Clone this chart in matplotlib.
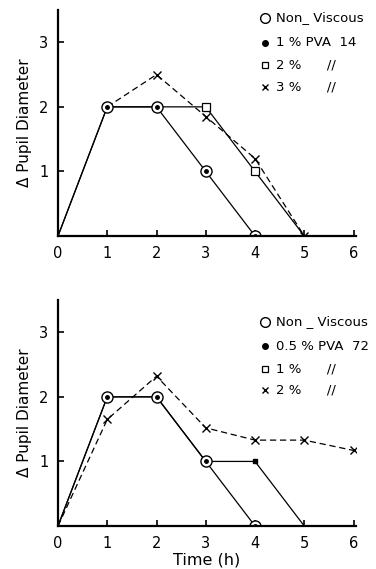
import matplotlib
matplotlib.use("Agg")
import matplotlib.pyplot as plt

# ---- data ----
x_ticks = [0, 1, 2, 3, 4, 5, 6]
y_ticks = [1, 2, 3]

# Top panel (PVA 14)
top_nonvisc_t = [0, 1, 2, 3, 4]
top_nonvisc = [0, 2, 2, 1, 0]
top_pva1_t = [0, 1, 2, 3, 4]
top_pva1 = [0, 2, 2, 1, 0]
top_pva2_t = [0, 1, 2, 3, 4, 5]
top_pva2 = [0, 2, 2, 2, 1, 0]
top_pva3_t = [1, 2, 3, 4, 5]
top_pva3 = [2, 2.5, 1.85, 1.2, 0]
top_labels = ["Non_ Viscous", "1 % PVA  14", "2 %      //", "3 %      //"]

# Bottom panel (PVA 72)
bot_nonvisc_t = [0, 1, 2, 3, 4]
bot_nonvisc = [0, 2, 2, 1, 0]
bot_pva05_t = [0, 1, 2, 3, 4]
bot_pva05 = [0, 2, 2, 1, 0]
bot_pva1_t = [0, 1, 2, 3, 4, 5]
bot_pva1 = [0, 2, 2, 1, 1, 0]
bot_pva2_t = [0, 1, 2, 3, 4, 5, 6]
bot_pva2 = [0, 1.65, 2.32, 1.52, 1.33, 1.33, 1.17]
bot_labels = ["Non _ Viscous", "0.5 % PVA  72", "1 %      //", "2 %      //"]

W, H = 376, 569
fig = plt.figure(figsize=(W / 100, H / 100), dpi=100)

def px_axes(left, bottom_px, width, height):
    return fig.add_axes([left / W, 1 - bottom_px / H, width / W, height / H])

ax1 = px_axes(58, 236, 298, 226)
ax2 = px_axes(58, 526, 298, 226)

lw = 0.9
def style(ax, show_xlabel):
    ax.set_xlim(0, 6.05)
    ax.set_ylim(0, 3.5)
    for s in ["top", "right"]:
        ax.spines[s].set_visible(False)
    for s in ["left", "bottom"]:
        ax.spines[s].set_linewidth(1.6)
    ax.set_xticks(x_ticks)
    ax.set_yticks(y_ticks)
    ax.tick_params(direction="in", length=4, width=1.2, labelsize=10.5, pad=7)
    ax.set_ylabel("Δ Pupil Diameter", fontsize=11, labelpad=5)
    if show_xlabel:
        ax.set_xlabel("Time (h)", fontsize=11.5, labelpad=1)

def legend(ax, labels, ys):
    x_m, x_t = (265 - 58) / 298, (276 - 58) / 298
    mk = [dict(marker="o", ms=7, mfc="white", mec="black", mew=1.0),
          dict(marker="o", ms=4, mfc="black", mec="black"),
          dict(marker="s", ms=5, mfc="white", mec="black", mew=0.9),
          dict(marker="x", ms=4.5, mec="black", mew=1.0)]
    for lab, y, m in zip(labels, ys, mk):
        ax.plot([x_m], [y], transform=ax.transAxes, clip_on=False, ls="none", **m)
        ax.text(x_t, y, lab, transform=ax.transAxes, fontsize=9.5, va="center", ha="left")

# top
ax = ax1
ax.plot(top_pva3_t, top_pva3, color="black", lw=lw, ls=(0, (5, 3)), marker="x", ms=6, mew=1.0)
ax.plot(top_pva2_t, top_pva2, color="black", lw=lw, marker="s", ms=6, mfc="white", mec="black", mew=0.9, markevery=[3, 4])
ax.plot(top_nonvisc_t, top_nonvisc, color="black", lw=lw, marker="o", ms=8, mfc="white", mec="black", mew=1.0, markevery=[1, 2, 3, 4])
ax.plot(top_pva1_t, top_pva1, color="black", lw=0, marker="o", ms=2.5, mfc="black", mec="black", markevery=[1, 2, 3, 4])
style(ax, False)
legend(ax, top_labels, [(236 - 18) / 226, (236 - 43) / 226, (236 - 65) / 226, (236 - 87) / 226])

# bottom
ax = ax2
ax.plot(bot_pva2_t, bot_pva2, color="black", lw=lw, ls=(0, (5, 3)), marker="x", ms=6, mew=1.0, markevery=[1, 2, 3, 4, 5, 6])
ax.plot(bot_pva1_t, bot_pva1, color="black", lw=lw, marker="s", ms=2.5, mfc="black", mec="black", markevery=[4])
ax.plot(bot_nonvisc_t, bot_nonvisc, color="black", lw=lw, marker="o", ms=8, mfc="white", mec="black", mew=1.0, markevery=[1, 2, 3, 4])
ax.plot(bot_pva05_t, bot_pva05, color="black", lw=0, marker="o", ms=2.5, mfc="black", mec="black", markevery=[1, 2, 3, 4])
style(ax, True)
legend(ax, bot_labels, [(526 - 322) / 226, (526 - 346) / 226, (526 - 369) / 226, (526 - 390) / 226])

fig.savefig("out.png", dpi=100)
